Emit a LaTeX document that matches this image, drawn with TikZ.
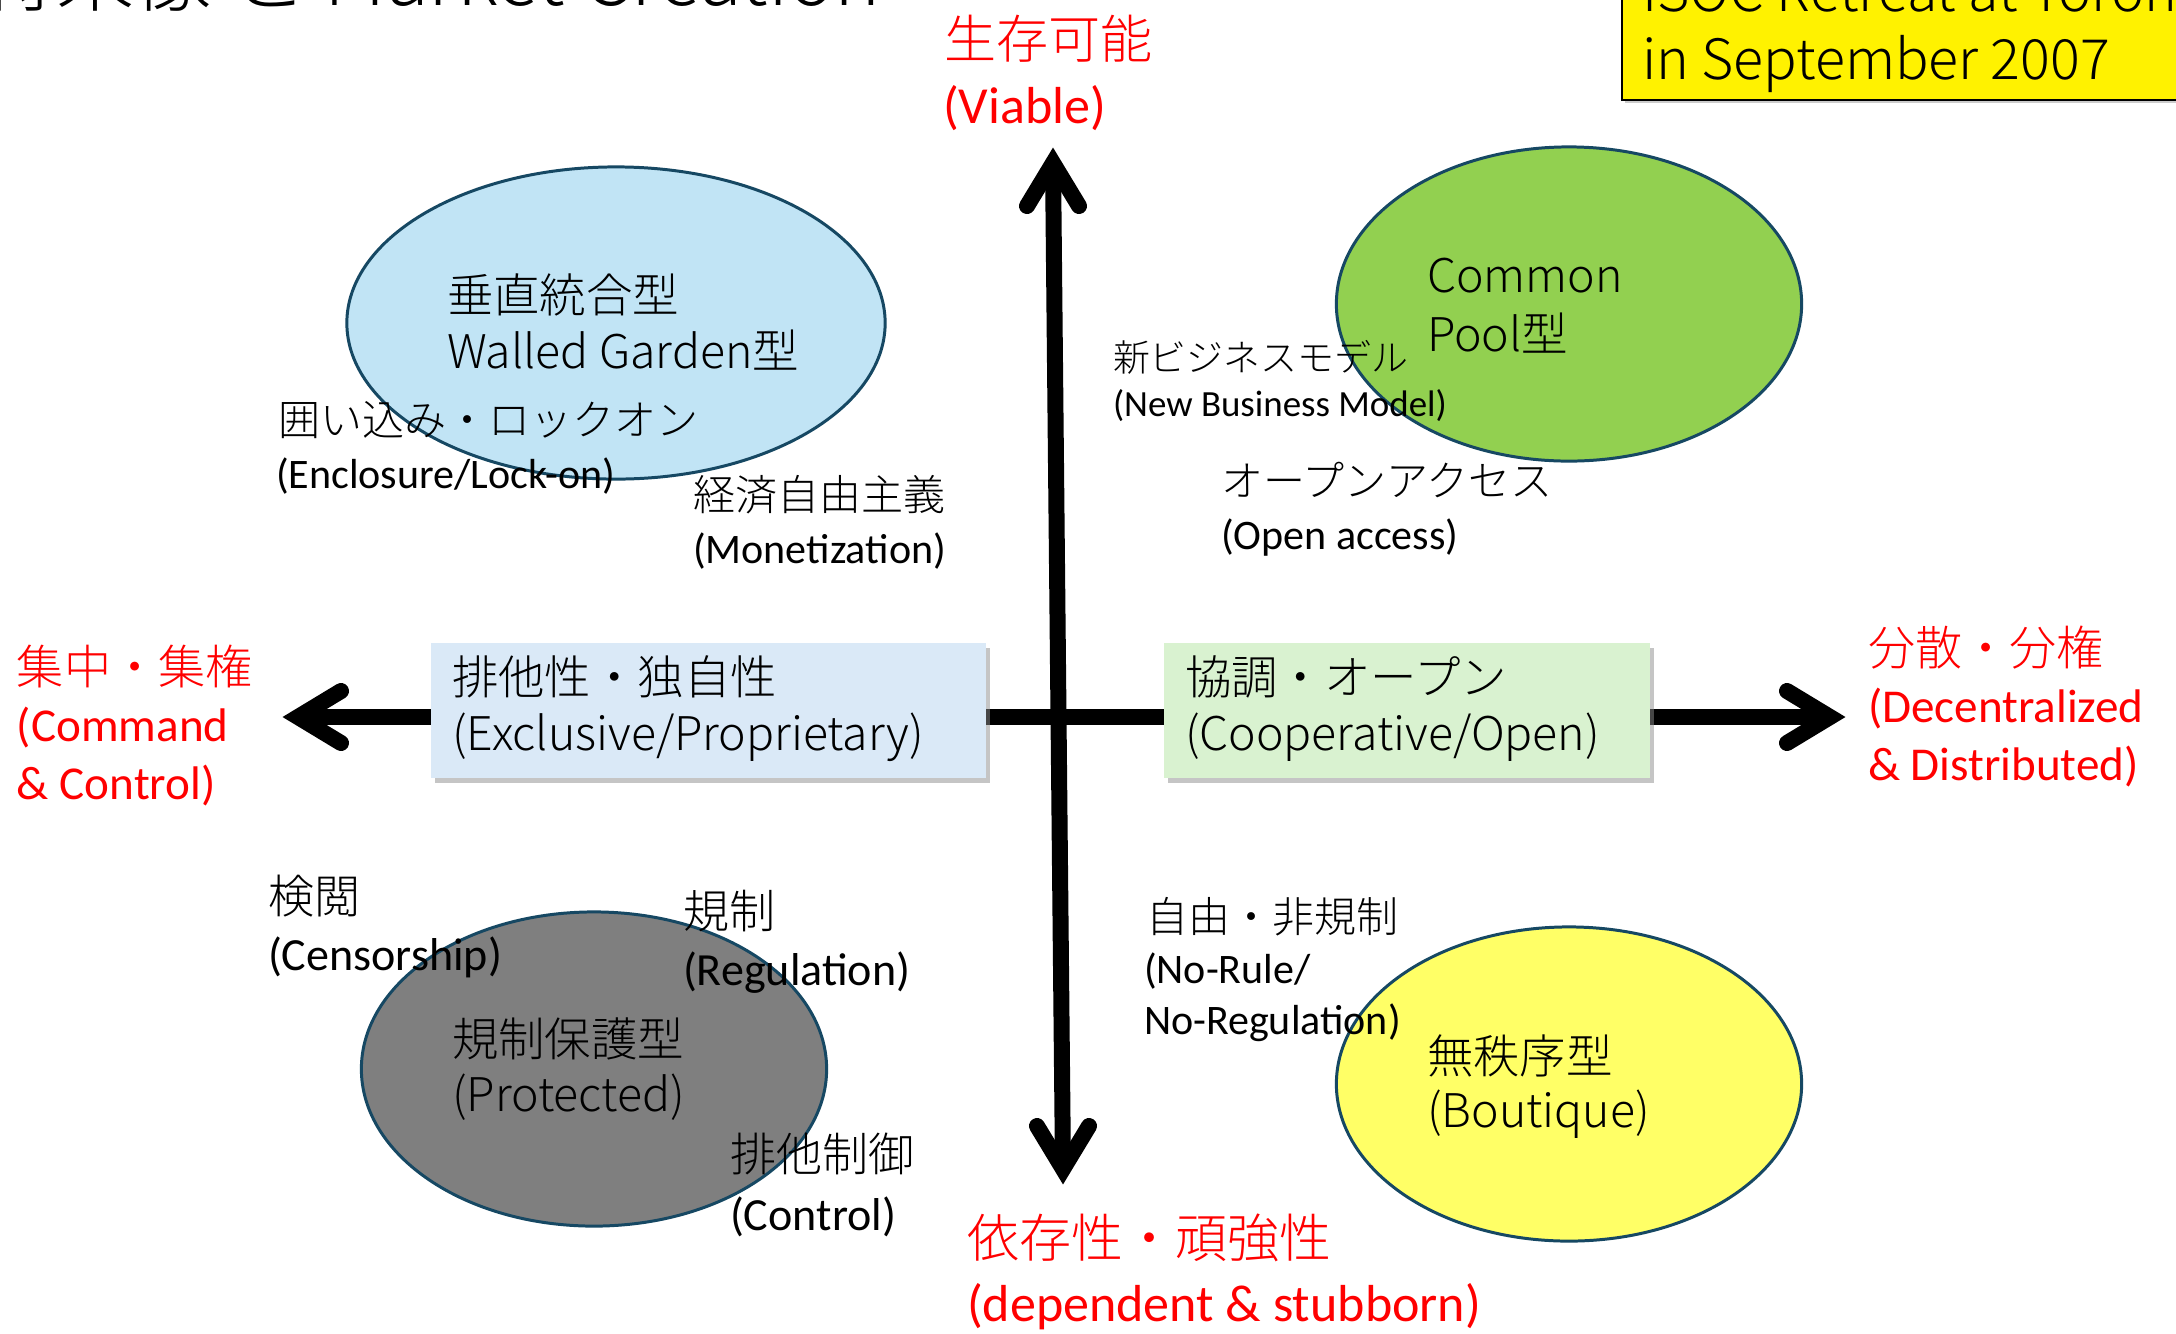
\documentclass[tikz,border=0pt]{standalone}
\usepackage{fontspec}
\IfFontExistsTF{Noto Sans CJK JP Light}
  {\newfontfamily\jpf{Noto Sans CJK JP Light}}
  {\newfontfamily\jpf{Noto Sans CJK JP}}
\newfontfamily\calf{Carlito}
\usetikzlibrary{shapes.geometric,shadows}
\definecolor{edgeblue}{RGB}{22,72,99}
\definecolor{ellblue}{RGB}{193,228,245}
\definecolor{ellgreen}{RGB}{146,208,80}
\definecolor{ellgray}{RGB}{127,127,127}
\definecolor{ellyellow}{RGB}{255,255,102}
\definecolor{boxblue}{RGB}{218,233,247}
\definecolor{boxgreen}{RGB}{217,242,208}
\newcommand\myfs[1]{\fontsize{#1}{#1}\selectfont}
\begin{document}
\begin{tikzpicture}[x=0.01cm,y=-0.01cm,
  lab/.style={anchor=base west, inner sep=0pt, outer sep=0pt},
  thin/.style={lab, font=\jpf\myfs{13.2}},
  jsm/.style={lab, font=\jpf\myfs{11.95}},
  csm/.style={lab, font=\calf\myfs{11.95}},
  jmd/.style={lab, font=\jpf\myfs{13.1}},
  cmd/.style={lab, font=\calf\myfs{13.1}},
  jtn/.style={lab, font=\jpf\myfs{10.5}},
  ctn/.style={lab, font=\calf\myfs{10.5}},
  redj/.style={lab, text=red, font=\jpf\myfs{14.8}},
  redc/.style={lab, text=red, font=\calf\myfs{14.8}},
  redjs/.style={lab, text=red, font=\jpf\myfs{13.4}},
  redcs/.style={lab, text=red, font=\calf\myfs{13.4}},
  blob/.style={ellipse, draw=edgeblue, line width=0.85pt, inner sep=0pt},
  axisline/.style={line width=4.55pt, black},
  head/.style={line width=4.55pt, black, line cap=round, line join=miter},
  qbox/.style={rectangle, inner sep=0pt, minimum height=1.35cm, anchor=north west,
    drop shadow={shadow xshift=1.2pt, shadow yshift=-1.4pt, opacity=0.5, fill=black!45}}
]
\clip (0,0) rectangle (2176,1333);
\fill[white] (0,0) rectangle (2176,1333);

% title (cut off at the top)
\node[lab, font=\jpf\myfs{22.2}] (title) at (-100,5) {の将来像 と Market Creation};

% banner
\node[draw=black, line width=0.6pt, fill=yellow, anchor=north west, inner sep=0pt,
  minimum width=6cm, minimum height=1.2cm,
  drop shadow={shadow xshift=0.8pt, shadow yshift=-0.8pt, opacity=0.4}] (banner) at (1621,-21) {};
\node[lab, font=\jpf\myfs{15.8}] (bn1) at (1642,11) {ISOC Retreat at Toronto};
\node[lab, font=\jpf\myfs{15.8}] (bn2) at (1642,79) {in September 2007};

% ellipses
\node[blob, fill=ellblue, minimum width=5.38cm, minimum height=3.12cm] (wg) at (616,323) {};
\node[blob, fill=ellgreen, minimum width=4.65cm, minimum height=3.14cm] (cp) at (1569,304) {};
\node[blob, fill=ellgray, minimum width=4.65cm, minimum height=3.14cm] (pr) at (594,1069) {};
\node[blob, fill=ellyellow, minimum width=4.65cm, minimum height=3.14cm] (bt) at (1569,1084) {};

% axes
\coordinate (vt) at (1053,163);
\coordinate (vb) at (1063,1169);
\coordinate (hl) at (298,717);
\coordinate (hr) at (1830,717);
\draw[axisline] (vt) -- (vb);
\draw[axisline] (hl) -- (hr);
\draw[head] ([shift={(-26,43)}]vt) -- (vt) -- ([shift={(26,43)}]vt);
\draw[head] ([shift={(-26,-43)}]vb) -- (vb) -- ([shift={(26,-43)}]vb);
\draw[head] ([shift={(43,-26)}]hl) -- (hl) -- ([shift={(43,26)}]hl);
\draw[head] ([shift={(-43,-26)}]hr) -- (hr) -- ([shift={(-43,26)}]hr);

% boxes on the horizontal axis
\node[qbox, fill=boxblue, minimum width=5.55cm] (exbox) at (430,642) {};
\node[qbox, fill=boxgreen, minimum width=4.86cm] (cobox) at (1163,642) {};
\node[thin] (ex1) at (452,694) {排他性・独自性};
\node[thin] (ex2) at (452,750) {(Exclusive/Proprietary)};
\node[thin] (co1) at (1185,694) {協調・オープン};
\node[thin] (co2) at (1185,750) {(Cooperative/Open)};

% axis labels
\node[redj] (vj) at (944,58) {生存可能};
\node[redc] (vc) at (943,123) {(Viable)};
\node[redjs] (cmj) at (17,684) {集中・集権};
\node[redcs] (cmc1) at (17,741) {(Command};
\node[redcs] (cmc2) at (17,799) {\& Control)};
\node[redjs] (dcj) at (1868,665) {分散・分権};
\node[redcs] (dcc1) at (1868,722) {(Decentralized};
\node[redcs] (dcc2) at (1868,780) {\& Distributed)};
\node[redj] (dsj) at (967,1257) {依存性・頑強性};
\node[redc] (dsc) at (967,1321) {(dependent \& stubborn)};

% quadrant texts
\node[thin] (wg1) at (447,312) {垂直統合型};
\node[thin] (wg2) at (447,368) {Walled Garden型};
\node[jsm] (encj) at (278,435) {囲い込み・ロックオン};
\node[csm] (encc) at (276,488) {(Enclosure/Lock-on)};
\node[jsm] (monj) at (693,510) {経済自由主義};
\node[csm] (monc) at (693,563) {(Monetization)};
\node[thin] (cp1) at (1427,292) {Common};
\node[thin] (cp2) at (1427,351) {Pool型};
\node[jtn] (nbj) at (1113,371) {新ビジネスモデル};
\node[ctn] (nbc) at (1113,416) {(New Business Model)};
\node[jsm] (oaj) at (1221,496) {オープンアクセス};
\node[csm] (oac) at (1221,549) {(Open access)};
\node[jmd] (cej) at (268,913) {検閲};
\node[cmd] (cec) at (268,970) {(Censorship)};
\node[jmd] (rgj) at (683,928) {規制};
\node[cmd] (rgc) at (683,985) {(Regulation)};
\node[thin] (prj) at (452,1056) {規制保護型};
\node[thin] (prc) at (452,1111) {(Protected)};
\node[jmd] (ctj) at (730,1171) {排他制御};
\node[cmd] (ctc) at (730,1230) {(Control)};
\node[jsm] (nrj) at (1146,932) {自由・非規制};
\node[csm] (nrc1) at (1144,983) {(No-Rule/};
\node[csm] (nrc2) at (1144,1034) {No-Regulation)};
\node[thin] (btj) at (1427,1073) {無秩序型};
\node[thin] (btc) at (1427,1127) {(Boutique)};
\end{tikzpicture}
\end{document}
